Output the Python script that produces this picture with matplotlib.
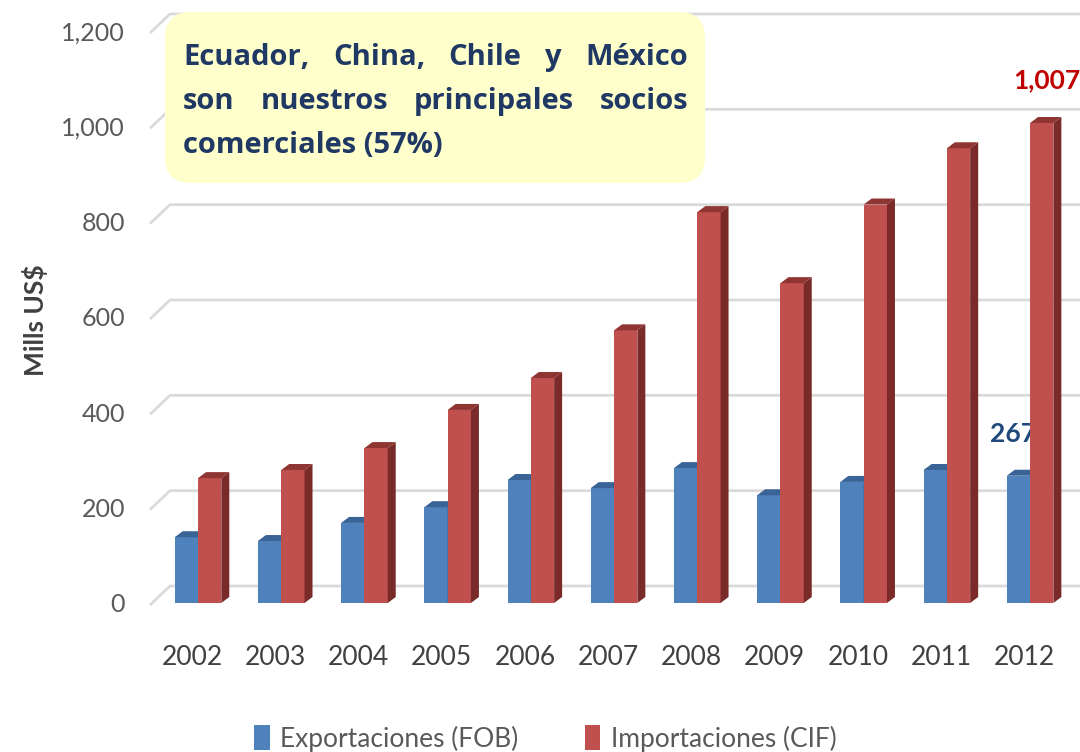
import numpy as np
import matplotlib.pyplot as plt
from matplotlib.patches import Polygon, FancyBboxPatch
from matplotlib.transforms import Affine2D

plt.rcParams['font.family'] = ['Lato', 'DejaVu Sans']

years = ['2002', '2003', '2004', '2005', '2006', '2007', '2008', '2009', '2010', '2011', '2012']
exportaciones = [138, 130, 168, 201, 258, 241, 283, 226, 254, 279, 267]
importaciones = [262, 279, 325, 405, 472, 572, 820, 671, 836, 954, 1007]
yticks = [0, 200, 400, 600, 800, 1000, 1200]
series_names = ['Exportaciones (FOB)', 'Importaciones (CIF)']
box_lines = ['Ecuador, China, Chile y México',
             'son nuestros principales socios',
             'comerciales (57%)']

blue, blue_top = '#4F81BD', '#3A6396'
red, red_top, red_side = '#C0504D', '#8F3532', '#7A2B29'

W, H = 1080, 752
fig = plt.figure(figsize=(W / 100, H / 100), dpi=100)
# pixel coords of the picture, y pointing down
pix = Affine2D().scale(1, -1).translate(0, H).scale(1 / W, 1 / H) + fig.transFigure

ax = fig.add_axes([150 / W, (H - 603) / H, 930 / W, 572 / H])
xmin, xmax = -0.577, 10.6
ax.set_xlim(xmin, xmax)
ax.set_ylim(0, 1200)
sx = 930 / (xmax - xmin)   # px per x unit
sy = 572 / 1200            # px per y unit

# back wall grid lines with a small 3d slant
for v in yticks:
    ax.plot([xmin, xmin + 20 / sx, xmax], [v - 2 / sy, v + 17 / sy, v + 17 / sy],
            color='#DADADA', lw=2, zorder=1, clip_on=False, solid_capstyle='butt')

x = np.arange(len(years))
w = 0.28
dx, dy = 8 / sx, 6 / sy


def bars3d(x0s, vals, front, top, side, z):
    bars = ax.bar(x0s, vals, width=w, align='edge', color=front, zorder=z, linewidth=0)
    for x0, h in zip(x0s, vals):
        ax.add_patch(Polygon([(x0, h), (x0 + w, h), (x0 + w + dx, h + dy), (x0 + dx, h + dy)],
                             closed=True, color=top, lw=0, zorder=z))
        ax.add_patch(Polygon([(x0 + w, 0), (x0 + w + dx, dy), (x0 + w + dx, h + dy), (x0 + w, h)],
                             closed=True, color=side, lw=0, zorder=z))
    return bars


b1 = bars3d(x - w, exportaciones, blue, blue_top, '#2F5582', 3)
b2 = bars3d(x, importaciones, red, red_top, red_side, 4)

ax.annotate('1,007', xy=(x[-1] + w / 2, importaciones[-1]), xytext=(4, 31),
            textcoords='offset points', ha='center', va='center',
            fontsize=19, fontweight='bold', color='#C00000', annotation_clip=False)
ax.annotate('267', xy=(x[-1] - w / 2, exportaciones[-1]), xytext=(-4, 30),
            textcoords='offset points', ha='center', va='center',
            fontsize=19, fontweight='bold', color='#1F497D')

for s in ax.spines.values():
    s.set_visible(False)
ax.set_yticks(yticks, [f'{v:,}' for v in yticks])
ax.set_xticks(x - 0.07, years)
ax.tick_params(axis='y', length=0, pad=18, labelsize=18, labelcolor='#595959')
ax.tick_params(axis='x', length=0, pad=30, labelsize=19, labelcolor='#404040')

fig.text(35, 320, 'Mills US$', transform=pix, rotation=90, ha='center', va='center',
         fontsize=19, fontweight='bold', color='#404040')

# text box
fig.patches.append(FancyBboxPatch((165, 12), 540, 171, boxstyle='round,pad=0,rounding_size=26',
                                  transform=pix, facecolor='#FFFFCC', edgecolor='none'))
renderer = fig.canvas.get_renderer()
left, right = 183, 688
baselines = [65, 109, 153]
txt_kw = dict(transform=pix, fontsize=21, fontweight='bold', color='#1F3864', va='baseline',
              family=['Open Sans', 'DejaVu Sans'])
for i, line in enumerate(box_lines):
    if i == len(box_lines) - 1:
        fig.text(left, baselines[i], line, ha='left', **txt_kw)
        continue
    words = [fig.text(0, baselines[i], wd, ha='left', **txt_kw) for wd in line.split()]
    widths = [t.get_window_extent(renderer).width for t in words]
    gap = (right - left - sum(widths)) / (len(words) - 1)
    xpos = left
    for t, wd in zip(words, widths):
        t.set_x(xpos)
        xpos += wd + gap

fig.legend([b1, b2], series_names, loc='center', bbox_to_anchor=(0.505, 0.018), ncol=2,
           frameon=False, fontsize=19, handlelength=0.6, handleheight=1.1,
           handletextpad=0.4, columnspacing=2.5, labelcolor='#595959')

fig.savefig('out.png', dpi=100)
